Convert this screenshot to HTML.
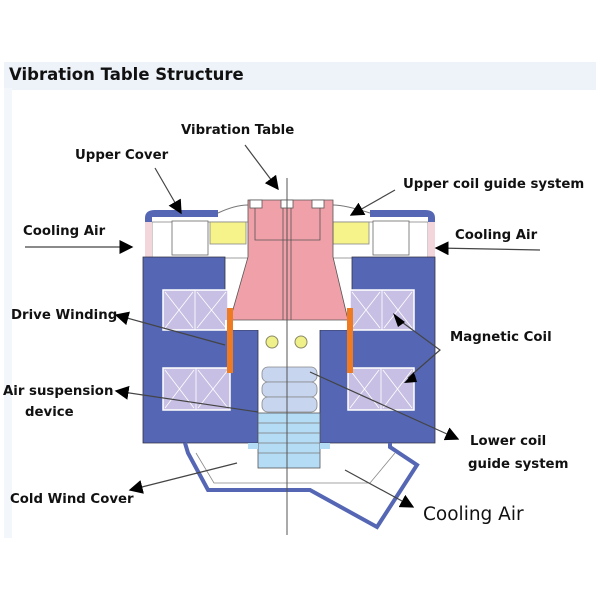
<!DOCTYPE html>
<html><head><meta charset="utf-8"><style>
body{margin:0;width:600px;height:600px;background:#fff;overflow:hidden}
svg{display:block}
.l{font-family:"DejaVu Sans","Liberation Sans",sans-serif;font-weight:bold;font-size:13.3px;fill:#111}
</style></head><body>
<svg width="600" height="600" viewBox="0 0 600 600" xmlns="http://www.w3.org/2000/svg">
<defs>
<marker id="b" viewBox="0 0 10 10" refX="9" refY="5" markerWidth="14" markerHeight="14" orient="auto" markerUnits="userSpaceOnUse"><path d="M0,0L10,5L0,10z" fill="#000"/></marker></defs>
<rect x="4" y="62" width="592" height="28" fill="#eef3f9"/>
<rect x="4" y="88" width="8" height="450" fill="#f3f6fa"/>
<text x="9" y="80" font-family="DejaVu Sans,sans-serif" font-weight="bold" font-size="16.5" fill="#111">Vibration Table Structure</text>
<!-- upper cover -->
<path d="M145,258 L145,218 Q145,210 155,210 L218,210 L218,217 L152,217 L152,258Z" fill="#5466b4"/>
<path d="M435,258 L435,218 Q435,210 425,210 L370,210 L370,217 L428,217 L428,258Z" fill="#5466b4"/>
<rect x="152" y="222" width="276" height="36" fill="#fff" stroke="#777" stroke-width="0.7"/>
<rect x="145" y="222" width="7" height="36" fill="#f2d6dc"/><rect x="428" y="222" width="7" height="36" fill="#f2d6dc"/>
<rect x="172" y="221" width="36" height="34" fill="#fff" stroke="#666" stroke-width="0.8"/>
<rect x="373" y="221" width="36" height="34" fill="#fff" stroke="#666" stroke-width="0.8"/>
<rect x="210" y="222" width="36" height="22" fill="#f5f38a" stroke="#888" stroke-width="0.8"/>
<rect x="333" y="222" width="36" height="22" fill="#f5f38a" stroke="#888" stroke-width="0.8"/>
<path d="M218,213 Q235,205 248,205 M370,213 Q345,205 333,205" fill="none" stroke="#777"/>
<!-- body -->
<path d="M143,257 H225 V330 H258 V443 H143Z" fill="#5466b4" stroke="#334" stroke-width="0.8"/>
<path d="M435,257 H352 V330 H320 V443 H435Z" fill="#5466b4" stroke="#334" stroke-width="0.8"/>
<rect x="163" y="290" width="65" height="40" fill="#c8c0e4" stroke="#fff" stroke-width="1.5"/>
<rect x="350" y="290" width="64" height="40" fill="#c8c0e4" stroke="#fff" stroke-width="1.5"/>
<rect x="163" y="368" width="67" height="42" fill="#c8c0e4" stroke="#fff" stroke-width="1.5"/>
<rect x="348" y="368" width="66" height="42" fill="#c8c0e4" stroke="#fff" stroke-width="1.5"/>
<g stroke="#fff" stroke-width="0.8"><path d="M195,290V330M165,292L193,328M193,292L165,328M197,292L226,328M226,292L197,328"/><path d="M382,290V330M352,292L380,328M380,292L352,328M384,292L412,328M412,292L384,328"/><path d="M196,368V410M165,370L194,408M194,370L165,408M198,370L228,408M228,370L198,408"/><path d="M381,368V410M350,370L379,408M379,370L350,408M383,370L412,408M412,370L383,408"/></g>
<rect x="225" y="320" width="127" height="10" fill="#fff"/>
<!-- table -->
<path d="M248,200 H333 V257 L348,320 H230 L248,257Z" fill="#f0a0a8" stroke="#555" stroke-width="0.8"/>
<path d="M255,205V240H320V205M283,200V320M291,200V320" fill="none" stroke="#555" stroke-width="0.8"/>
<g fill="#fff" stroke="#555" stroke-width="0.8"><rect x="250" y="200" width="12" height="8"/><rect x="281" y="200" width="12" height="8"/><rect x="312" y="200" width="12" height="8"/></g>
<rect x="227" y="308" width="6" height="65" fill="#ee7a22"/><rect x="347" y="308" width="6" height="65" fill="#ee7a22"/>
<circle cx="272" cy="342" r="6" fill="#f0f08a" stroke="#886" /><circle cx="301" cy="342" r="6" fill="#f0f08a" stroke="#886"/>
<g fill="#c7d5ef" stroke="#888" stroke-width="0.8"><rect x="262" y="367" width="55" height="15" rx="6"/><rect x="262" y="382" width="55" height="15" rx="6"/><rect x="262" y="397" width="55" height="15" rx="6"/></g>
<rect x="258" y="413" width="62" height="55" fill="#b5dcf5" stroke="#555" stroke-width="0.8"/>
<path d="M258,423H320M258,433H320M258,443H320M258,453H320" stroke="#777" stroke-width="0.7"/>
<rect x="248" y="443" width="10" height="6" fill="#b5dcf5"/><rect x="320" y="443" width="10" height="6" fill="#b5dcf5"/>
<!-- bottom cover -->
<path d="M185,443 L188,453 L208,490 L310,490 L377,527 L417,465 L390,447 L390,443" fill="none" stroke="#5466b4" stroke-width="4"/>
<path d="M196,453 L214,483 L370,483 L395,453" fill="none" stroke="#888" stroke-width="0.8"/>
<line x1="287" y1="178" x2="287" y2="535" stroke="#555" stroke-width="1"/>
<!-- arrows -->
<g stroke="#444" stroke-width="1.2" fill="none">
<line x1="245" y1="145" x2="278" y2="189" marker-end="url(#b)"/>
<line x1="155" y1="168" x2="181" y2="213" marker-end="url(#b)"/>
<line x1="395" y1="190" x2="351" y2="215" marker-end="url(#b)"/>
<line x1="25" y1="247" x2="132" y2="247" marker-end="url(#b)"/>
<line x1="540" y1="250" x2="436" y2="248" marker-end="url(#b)"/>
<line x1="225" y1="345" x2="116" y2="315" marker-end="url(#b)"/>
<polyline points="395,317 440,350 408,378"/>
<line x1="258" y1="412" x2="116" y2="391" marker-end="url(#b)"/>
<line x1="310" y1="372" x2="458" y2="439" marker-end="url(#b)"/>
<line x1="237" y1="463" x2="130" y2="490" marker-end="url(#b)"/>
<line x1="345" y1="470" x2="413" y2="507" marker-end="url(#b)"/>
</g>
<path d="M393,313 L405,322 L398,327Z M404,383 L414,372 L417,382Z" fill="#000"/>
<text class="l" x="181" y="134">Vibration Table</text>
<text class="l" x="75" y="159">Upper Cover</text>
<text class="l" x="403" y="188">Upper coil guide system</text>
<text class="l" x="23" y="235">Cooling Air</text>
<text class="l" x="455" y="239">Cooling Air</text>
<text class="l" x="11" y="319">Drive Winding</text>
<text class="l" x="450" y="341">Magnetic Coil</text>
<text class="l" x="3" y="395">Air suspension</text>
<text class="l" x="25" y="416">device</text>
<text class="l" x="470" y="445">Lower coil</text>
<text class="l" x="468" y="468">guide system</text>
<text class="l" x="10" y="503">Cold Wind Cover</text>
<text x="423" y="520" font-family="DejaVu Sans,sans-serif" font-size="18.5" fill="#111">Cooling Air</text>
</svg>
</body></html>
